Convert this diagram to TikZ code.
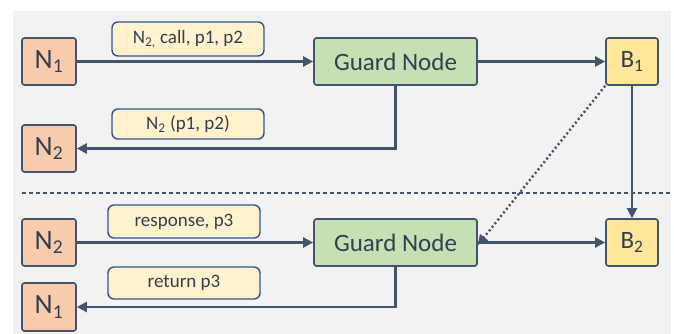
\documentclass[tikz,border=0pt]{standalone}
\usepackage{fontspec}
\setmainfont{Carlito}
\usetikzlibrary{arrows.meta}
\definecolor{bg}{HTML}{F2F2F2}
\definecolor{ink}{HTML}{44546A}
\definecolor{txt}{HTML}{333F50}
\definecolor{nfill}{HTML}{F8CBAD}
\definecolor{gfill}{HTML}{C5E0B4}
\definecolor{bfill}{HTML}{FFE699}
\definecolor{lfill}{HTML}{FFF2CC}
\definecolor{lborder}{HTML}{2F5597}
\tikzset{
  box/.style={draw=ink, line width=1.7pt, rounded corners=2.5pt, inner sep=0pt, text=txt},
  nbox/.style={box, fill=nfill, minimum width=54pt, minimum height=47pt, font=\fontsize{28}{30}\selectfont},
  gbox/.style={box, fill=gfill, minimum width=163pt, minimum height=47pt, font=\fontsize{25}{27}\selectfont},
  bbox/.style={box, fill=bfill, minimum width=52pt, minimum height=47pt, font=\fontsize{25}{27}\selectfont},
  lbox/.style={draw=lborder, line width=1.4pt, rounded corners=6pt, fill=lfill, text=txt, inner sep=0pt, minimum width=152pt, font=\fontsize{19}{21}\selectfont},
  conn/.style={draw=ink, line width=2.3pt, -{Triangle[length=10pt,width=10pt]}},
  dotconn/.style={draw=ink, line width=2.4pt, dash pattern=on 2pt off 2.6pt, -{Triangle[length=10pt,width=10pt]}},
  sep/.style={draw=ink, line width=1.4pt, dash pattern=on 4pt off 3pt}
}
\begin{document}
\begin{tikzpicture}[x=1pt,y=-1pt]
\useasboundingbox (0,0) rectangle (674,334);
\fill[bg] (13,11) rectangle (671,334);
% top half
\node[nbox] (n1a) at (49,61.5) {N\textsubscript{1}};
\node[gbox] (g1) at (395.5,61.5) {Guard Node};
\node[bbox] (b1) at (632,61.5) {B\textsubscript{1}};
\node[nbox] (n2a) at (49,148.5) {N\textsubscript{2}};
\node[lbox, minimum height=34pt] (l1) at (188,39) {N\textsubscript{2,} call, p1, p2};
\node[lbox, minimum height=30pt] (l2) at (188,124) {N\textsubscript{2} (p1, p2)};
% bottom half
\node[nbox] (n2b) at (49,242.5) {N\textsubscript{2}};
\node[gbox] (g2) at (395.5,242.5) {Guard Node};
\node[bbox] (b2) at (632,242.5) {B\textsubscript{2}};
\node[nbox, minimum height=48pt] (n1b) at (49,307) {N\textsubscript{1}};
\node[lbox, minimum height=33pt] (l3) at (184,221.5) {response, p3};
\node[lbox, minimum height=32pt] (l4) at (184,283) {return p3};
% separator
\coordinate (sepl) at (22,193);
\coordinate (sepr) at (671,193);
\draw[sep] (sepl) -- (sepr);
% connectors
\draw[conn] (n1a) -- (g1);
\draw[conn] (g1) -- (b1);
\draw[conn] (g1.south) |- (n2a.east);
\draw[conn] (b1) -- (b2);
\draw[dotconn] (b1.south west) -- ([yshift=-2.5pt]g2.east);
\draw[conn] (n2b) -- (g2);
\draw[conn] (g2) -- (b2);
\draw[conn] (g2.south) |- (n1b.east);
\end{tikzpicture}
\end{document}
